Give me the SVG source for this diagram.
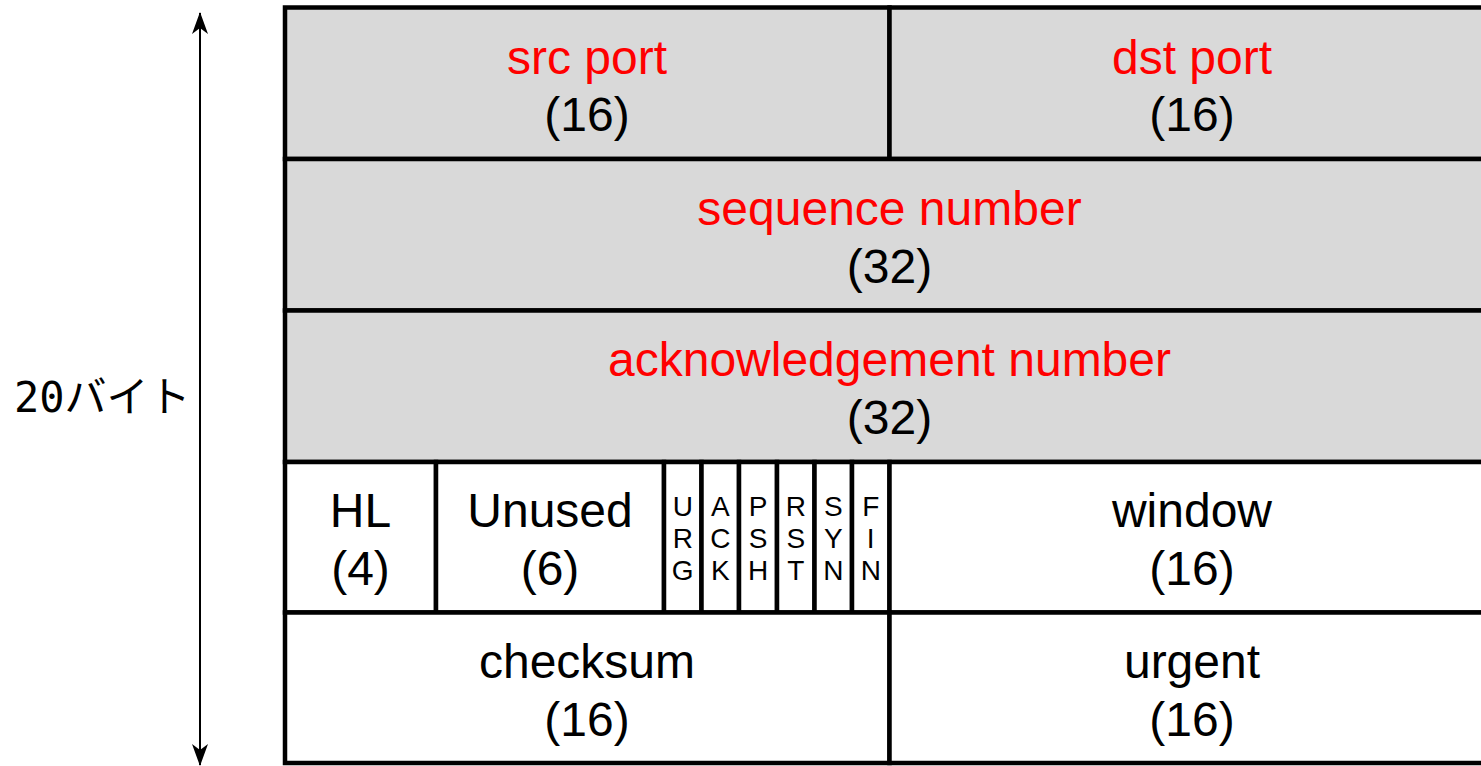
<svg xmlns="http://www.w3.org/2000/svg" width="1481" height="766" viewBox="0 0 1481 766">
<style>
.cell{stroke:#000;stroke-width:4.5}
.g{fill:#d9d9d9}
.w{fill:#fff}
.t{font-family:"Liberation Sans",Arial,sans-serif;font-size:48px;text-anchor:middle;fill:#000}
.r{fill:#ff0000}
.f{font-family:"Liberation Sans",Arial,sans-serif;font-size:28px;text-anchor:middle;fill:#000}
.lbl{font-family:"DejaVu Sans Mono","Noto Sans CJK JP",monospace;font-size:42px;fill:#000}
</style>
<defs>
<marker id="ah" viewBox="0 0 22 16" refX="21" refY="8" markerWidth="22" markerHeight="16" markerUnits="userSpaceOnUse" orient="auto-start-reverse">
<path d="M0,0 L22,8 L0,16 L6,8 Z" fill="#000"/>
</marker>
</defs>
<rect width="1481" height="766" fill="#fff"/>
<g id="row1">
<g id="src-port"><rect class="cell g" x="285" y="7.5" width="604.5" height="151.5"/><text class="t r" x="587" y="74">src port</text><text class="t" x="587" y="131">(16)</text></g>
<g id="dst-port"><rect class="cell g" x="889.5" y="7.5" width="604.5" height="151.5"/><text class="t r" x="1192" y="74">dst port</text><text class="t" x="1192" y="131">(16)</text></g>
</g>
<g id="seq"><rect class="cell g" x="285" y="159" width="1209" height="151.5"/><text class="t r" x="889.5" y="225">sequence number</text><text class="t" x="889.5" y="283">(32)</text></g>
<g id="ack"><rect class="cell g" x="285" y="310.5" width="1209" height="151.5"/><text class="t r" x="889.5" y="376">acknowledgement number</text><text class="t" x="889.5" y="434">(32)</text></g>
<g id="hl"><rect class="cell w" x="285" y="462" width="151" height="150.5"/><text class="t" x="360.5" y="527">HL</text><text class="t" x="360.5" y="585">(4)</text></g>
<g id="unused"><rect class="cell w" x="436" y="462" width="228" height="150.5"/><text class="t" x="550" y="527">Unused</text><text class="t" x="550" y="585">(6)</text></g>
<g id="urg"><rect class="cell w" x="664" y="462" width="37.5" height="150.5"/><text class="f" x="682.75" y="516">U</text><text class="f" x="682.75" y="548">R</text><text class="f" x="682.75" y="580">G</text></g>
<g id="ackf"><rect class="cell w" x="701.5" y="462" width="37.5" height="150.5"/><text class="f" x="720.25" y="516">A</text><text class="f" x="720.25" y="548">C</text><text class="f" x="720.25" y="580">K</text></g>
<g id="psh"><rect class="cell w" x="739" y="462" width="38" height="150.5"/><text class="f" x="758" y="516">P</text><text class="f" x="758" y="548">S</text><text class="f" x="758" y="580">H</text></g>
<g id="rst"><rect class="cell w" x="777" y="462" width="37.5" height="150.5"/><text class="f" x="795.75" y="516">R</text><text class="f" x="795.75" y="548">S</text><text class="f" x="795.75" y="580">T</text></g>
<g id="syn"><rect class="cell w" x="814.5" y="462" width="37.5" height="150.5"/><text class="f" x="833.25" y="516">S</text><text class="f" x="833.25" y="548">Y</text><text class="f" x="833.25" y="580">N</text></g>
<g id="fin"><rect class="cell w" x="852" y="462" width="37.5" height="150.5"/><text class="f" x="870.75" y="516">F</text><text class="f" x="870.75" y="548">I</text><text class="f" x="870.75" y="580">N</text></g>
<g id="window"><rect class="cell w" x="889.5" y="462" width="604.5" height="150.5"/><text class="t" x="1192" y="527">window</text><text class="t" x="1192" y="585">(16)</text></g>
<g id="checksum"><rect class="cell w" x="285" y="612.5" width="604.5" height="150.5"/><text class="t" x="587" y="678">checksum</text><text class="t" x="587" y="736">(16)</text></g>
<g id="urgent"><rect class="cell w" x="889.5" y="612.5" width="604.5" height="150.5"/><text class="t" x="1192" y="678">urgent</text><text class="t" x="1192" y="736">(16)</text></g>
<g id="connectors">
<path d="M200,13 L200,765" stroke="#000" stroke-width="2" fill="none" marker-start="url(#ah)" marker-end="url(#ah)"/>
</g>
<g id="size-label"><text class="lbl" x="14" y="412">20バイト</text></g>
</svg>
